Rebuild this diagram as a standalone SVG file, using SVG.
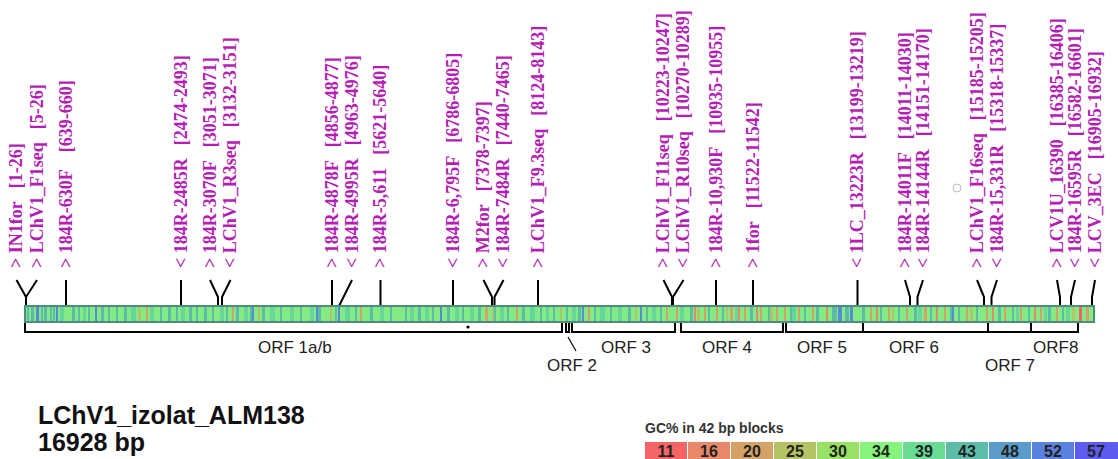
<svg xmlns="http://www.w3.org/2000/svg" width="1118" height="459" viewBox="0 0 1118 459">
<style>
.lbl{font-family:"Liberation Serif","Times New Roman",serif;font-weight:bold;font-size:18px;fill:#b41eb4}
.cn{fill:none;stroke:#000;stroke-width:2}
.orf{fill:none;stroke:#000;stroke-width:2}
.orft{font-family:"Liberation Sans",Arial,sans-serif;font-size:17px;fill:#222}
.title{font-family:"Liberation Sans",Arial,sans-serif;font-weight:bold;font-size:25px;fill:#111}
.legt{font-family:"Liberation Sans",Arial,sans-serif;font-weight:bold;font-size:14px;fill:#333}
.legn{font-family:"Liberation Sans",Arial,sans-serif;font-weight:bold;font-size:16px;fill:#222;text-anchor:middle}
.s1{fill:#5cbca8}.s2{fill:#66d69a}.s3{fill:#5a8ad6}.s4{fill:#d4a266}.s5{fill:#b2c466}.s6{fill:#e38a6a}.s8{fill:#f06464}
</style>
<rect width="1118" height="459" fill="#fff"/>
<g id="labels">
<g id="n1"><text class="lbl" transform="translate(22,268) rotate(-90)">&gt; IN1for<tspan dx="13">[1-26]</tspan></text></g>
<g id="n2"><text class="lbl" transform="translate(42.5,268) rotate(-90)">&gt; LChV1_F1seq<tspan dx="13">[5-26]</tspan></text></g>
<g id="n3"><text class="lbl" transform="translate(71.5,268) rotate(-90)">&gt; 184R-630F<tspan dx="17">[639-660]</tspan></text></g>
<g id="n4"><text class="lbl" transform="translate(186.5,268) rotate(-90)">&lt; 184R-2485R<tspan dx="13">[2474-2493]</tspan></text></g>
<g id="n5"><text class="lbl" transform="translate(215.5,268) rotate(-90)">&gt; 184R-3070F<tspan dx="13">[3051-3071]</tspan></text></g>
<g id="n6"><text class="lbl" transform="translate(236,268) rotate(-90)">&lt; LChV1_R3seq<tspan dx="13">[3132-3151]</tspan></text></g>
<g id="n7"><text class="lbl" transform="translate(337.5,268) rotate(-90)">&gt; 184R-4878F<tspan dx="13">[4856-4877]</tspan></text></g>
<g id="n8"><text class="lbl" transform="translate(357.5,268) rotate(-90)">&lt; 184R-4995R<tspan dx="13">[4963-4976]</tspan></text></g>
<g id="n9"><text class="lbl" transform="translate(386,268) rotate(-90)">&gt; 184R-5,611<tspan dx="13">[5621-5640]</tspan></text></g>
<g id="n10"><text class="lbl" transform="translate(458.5,268) rotate(-90)">&lt; 184R-6,795F<tspan dx="13">[6786-6805]</tspan></text></g>
<g id="n11"><text class="lbl" transform="translate(489,268) rotate(-90)">&gt; M2for<tspan dx="13">[7378-7397]</tspan></text></g>
<g id="n12"><text class="lbl" transform="translate(509,268) rotate(-90)">&lt; 184R-7484R<tspan dx="13">[7440-7465]</tspan></text></g>
<g id="n13"><text class="lbl" transform="translate(543.5,268) rotate(-90)">&gt; LChV1_F9.3seq<tspan dx="13">[8124-8143]</tspan></text></g>
<g id="n14"><text class="lbl" transform="translate(669,268) rotate(-90)">&gt; LChV1_F11seq<tspan dx="13">[10223-10247]</tspan></text></g>
<g id="n15"><text class="lbl" transform="translate(689,268) rotate(-90)">&lt; LChV1_R10seq<tspan dx="13">[10270-10289]</tspan></text></g>
<g id="n16"><text class="lbl" transform="translate(721.5,268) rotate(-90)">&gt; 184R-10,930F<tspan dx="13">[10935-10955]</tspan></text></g>
<g id="n17"><text class="lbl" transform="translate(758.5,268) rotate(-90)">&gt; 1for<tspan dx="13">[11522-11542]</tspan></text></g>
<g id="n18"><text class="lbl" transform="translate(863,268) rotate(-90)">&lt; 1LC_13223R<tspan dx="13">[13199-13219]</tspan></text></g>
<g id="n19"><text class="lbl" transform="translate(910.5,268) rotate(-90)">&gt; 184R-14011F<tspan dx="13">[14011-14030]</tspan></text></g>
<g id="n20"><text class="lbl" transform="translate(928.5,268) rotate(-90)">&lt; 184R-14144R<tspan dx="13">[14151-14170]</tspan></text></g>
<g id="n21"><text class="lbl" transform="translate(982.5,268) rotate(-90)">&gt; LChV1_F16seq<tspan dx="13">[15185-15205]</tspan></text></g>
<g id="n22"><text class="lbl" transform="translate(1002.5,268) rotate(-90)">&lt; 184R-15,331R<tspan dx="13">[15318-15337]</tspan></text></g>
<g id="n23"><text class="lbl" transform="translate(1062.5,268) rotate(-90)">&gt; LCV1U_16390<tspan dx="13">[16385-16406]</tspan></text></g>
<g id="n24"><text class="lbl" transform="translate(1080.5,268) rotate(-90)">&lt; 184R-16595R<tspan dx="13">[16582-16601]</tspan></text></g>
<g id="n25"><text class="lbl" transform="translate(1100.5,268) rotate(-90)">&lt; LCV_3EC<tspan dx="13">[16905-16932]</tspan></text></g>
</g>
<g id="connectors" class="cn">
<path d="M16.5 280L26 297V306M37 280L26 297"/>
<path d="M66 280V306M181 280V306"/>
<path d="M210 280L218 297V306M230.5 280L222 297V306"/>
<path d="M332 280V306M352 280L339 306M380.5 280V306M453 280V306"/>
<path d="M483.5 280L492 297V306M503.5 280L494.5 297V306M538 280V306"/>
<path d="M663.5 280L672 297V306M683.5 280L673 297V306M716 280V306M753 280V306M857.5 280V306"/>
<path d="M905 280L910 297V306M923 280L917.5 297V306M977 280L984 297V306M997 280L991.5 297V306"/>
<path d="M1057 280L1060 297V306M1075 280L1071 297V306M1095 280L1092 297V306"/>
<path d="M568 337L576 351" stroke-width="1.2"/>
</g>
<g id="genome">
<rect x="25" y="306" width="1069" height="16" fill="#84ea84" stroke="#4e8c80" stroke-width="2"/>
<path class="s1" d="M27 307h2v14h-2zM31 307h3v14h-3zM41 307h2v14h-2zM44 307h3v14h-3zM50 307h2v14h-2zM53 307h2v14h-2zM72 307h3v14h-3zM78 307h2v14h-2zM88 307h2v14h-2zM101 307h3v14h-3zM108 307h2v14h-2zM116 307h2v14h-2zM124 307h3v14h-3zM160 307h2v14h-2zM168 307h3v14h-3zM176 307h2v14h-2zM189 307h3v14h-3zM196 307h2v14h-2zM204 307h3v14h-3zM212 307h2v14h-2zM226 307h2v14h-2zM236 307h3v14h-3zM250 307h2v14h-2zM262 307h3v14h-3zM280 307h2v14h-2zM300 307h2v14h-2zM318 307h3v14h-3zM335 307h2v14h-2zM355 307h2v14h-2zM370 307h3v14h-3zM390 307h2v14h-2zM405 307h2v14h-2zM418 307h3v14h-3zM432 307h2v14h-2zM447 307h3v14h-3zM462 307h2v14h-2zM478 307h3v14h-3zM494 307h2v14h-2zM507 307h2v14h-2zM522 307h3v14h-3zM540 307h2v14h-2zM553 307h2v14h-2zM566 307h2v14h-2zM578 307h3v14h-3zM594 307h2v14h-2zM610 307h2v14h-2zM628 307h3v14h-3zM646 307h2v14h-2zM660 307h2v14h-2zM690 307h3v14h-3zM708 307h2v14h-2zM722 307h2v14h-2zM750 307h3v14h-3zM768 307h2v14h-2zM790 307h3v14h-3zM804 307h2v14h-2zM816 307h3v14h-3zM832 307h5v14h-5zM845 307h4v14h-4zM862 307h3v14h-3zM880 307h2v14h-2zM898 307h2v14h-2zM914 307h3v14h-3zM930 307h2v14h-2zM950 307h3v14h-3zM958 307h2v14h-2zM976 307h2v14h-2zM998 307h3v14h-3zM1012 307h2v14h-2zM1028 307h2v14h-2zM1048 307h3v14h-3zM1062 307h2v14h-2z"/>
<path class="s2" d="M60 307h4v14h-4zM83 307h3v14h-3zM131 307h5v14h-5zM150 307h4v14h-4zM181 307h4v14h-4zM220 307h4v14h-4zM244 307h4v14h-4zM270 307h5v14h-5zM290 307h4v14h-4zM310 307h4v14h-4zM345 307h5v14h-5zM380 307h4v14h-4zM410 307h4v14h-4zM425 307h4v14h-4zM455 307h4v14h-4zM470 307h4v14h-4zM500 307h4v14h-4zM530 307h5v14h-5zM546 307h3v14h-3zM572 307h4v14h-4zM600 307h5v14h-5zM618 307h4v14h-4zM652 307h4v14h-4zM680 307h4v14h-4zM735 307h3v14h-3zM792 307h4v14h-4zM918 307h4v14h-4zM1016 307h3v14h-3zM1044 307h3v14h-3zM1066 307h4v14h-4z"/>
<path class="s3" d="M36 307h3v14h-3zM56 307h2v14h-2zM95 307h2v14h-2zM252 307h2v14h-2zM316 307h2v14h-2zM338 307h2v14h-2zM440 307h2v14h-2zM582 307h2v14h-2zM640 307h2v14h-2zM838 307h4v14h-4zM850 307h3v14h-3zM952 307h2v14h-2z"/>
<path class="s4" d="M146 307h2v14h-2zM232 307h2v14h-2zM360 307h2v14h-2zM485 307h3v14h-3zM516 307h2v14h-2zM588 307h2v14h-2zM666 307h2v14h-2zM676 307h2v14h-2zM704 307h2v14h-2zM716 307h2v14h-2zM730 307h3v14h-3zM744 307h2v14h-2zM760 307h2v14h-2zM776 307h2v14h-2zM784 307h2v14h-2zM798 307h2v14h-2zM812 307h2v14h-2zM870 307h2v14h-2zM888 307h2v14h-2zM906 307h2v14h-2zM924 307h3v14h-3zM944 307h2v14h-2zM966 307h2v14h-2zM986 307h2v14h-2zM1004 307h2v14h-2zM1020 307h2v14h-2zM1040 307h2v14h-2zM1056 307h2v14h-2zM1086 307h3v14h-3z"/>
<path class="s5" d="M138 307h3v14h-3zM258 307h2v14h-2zM330 307h2v14h-2zM492 307h2v14h-2zM560 307h2v14h-2zM635 307h2v14h-2zM697 307h3v14h-3zM726 307h2v14h-2zM770 307h3v14h-3zM892 307h2v14h-2zM970 307h3v14h-3zM1072 307h3v14h-3z"/>
<path class="s6" d="M694 307h2v14h-2zM738 307h2v14h-2zM756 307h2v14h-2zM826 307h2v14h-2zM876 307h2v14h-2zM936 307h2v14h-2zM992 307h2v14h-2zM1034 307h2v14h-2z"/>
<path class="s8" d="M1079 307h3v14h-3z"/>
</g>
<g id="orfs">
<path class="orf" d="M25 323V332H562V323M566 323V332H569V323M572 323V332H675V323M681 323V332H783V323M786 323V332H988V323M863 332V323M988 332H1078V323M1031 332V323"/>
<text class="orft" x="258" y="353">ORF 1a/b</text>
<text class="orft" x="547" y="371">ORF 2</text>
<text class="orft" x="601" y="353">ORF 3</text>
<text class="orft" x="702" y="353">ORF 4</text>
<text class="orft" x="797" y="353">ORF 5</text>
<text class="orft" x="889" y="353">ORF 6</text>
<text class="orft" x="985" y="371">ORF 7</text>
<text class="orft" x="1033" y="353">ORF8</text>
</g>
<circle cx="468" cy="327" r="1.6" fill="#000"/>
<circle cx="957" cy="188" r="4" fill="none" stroke="#bbb" stroke-width="1"/>
<g id="title">
<text class="title" x="38" y="424">LChV1_izolat_ALM138</text>
<text class="title" x="38" y="451">16928 bp</text>
</g>
<g id="legend">
<text class="legt" x="645" y="433">GC% in 42 bp blocks</text>
<rect x="645" y="442" width="42" height="20" fill="#f46464"/>
<rect x="688" y="442" width="42" height="20" fill="#e8886a"/>
<rect x="731" y="442" width="42" height="20" fill="#d4a266"/>
<rect x="774" y="442" width="42" height="20" fill="#b6c266"/>
<rect x="817" y="442" width="42" height="20" fill="#98e066"/>
<rect x="860" y="442" width="42" height="20" fill="#86f47c"/>
<rect x="903" y="442" width="42" height="20" fill="#68dc94"/>
<rect x="946" y="442" width="42" height="20" fill="#5cbca8"/>
<rect x="989" y="442" width="42" height="20" fill="#5a9ccc"/>
<rect x="1032" y="442" width="42" height="20" fill="#5a80e0"/>
<rect x="1075" y="442" width="43" height="20" fill="#5e5cf0"/>
<text class="legn" x="666" y="457">11</text>
<text class="legn" x="709" y="457">16</text>
<text class="legn" x="752" y="457">20</text>
<text class="legn" x="795" y="457">25</text>
<text class="legn" x="838" y="457">30</text>
<text class="legn" x="881" y="457">34</text>
<text class="legn" x="924" y="457">39</text>
<text class="legn" x="967" y="457">43</text>
<text class="legn" x="1010" y="457">48</text>
<text class="legn" x="1053" y="457">52</text>
<text class="legn" x="1096" y="457">57</text>
</g>
</svg>
